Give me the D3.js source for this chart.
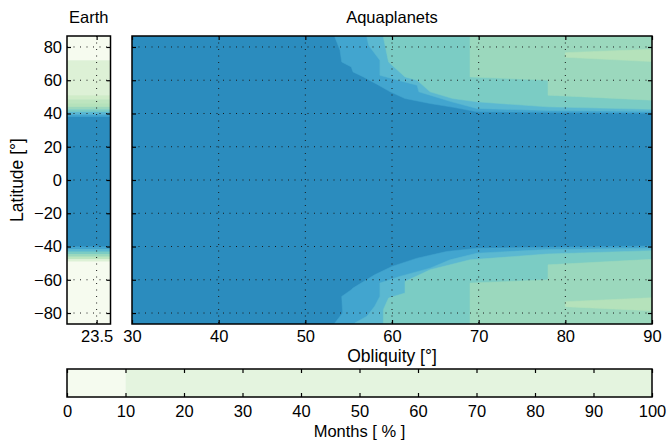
<!DOCTYPE html>
<html>
<head>
<meta charset="utf-8">
<script src="https://cdn.jsdelivr.net/npm/d3@7"></script>
<style>
  body { margin: 0; background: #fff; }
  text { font-family: "Liberation Sans", Arial, sans-serif; fill: #000; }
  .tick text { font-size: 16.5px; }
  .tick line { stroke: #000; stroke-width: 1.2; }
  .domain { display: none; }
</style>
</head>
<body>
<svg id="chart"></svg>
<script>
var svgWidth = 667;
var svgHeight = 442;

// contour levels (months in %) and their colours
var levels = [10, 20, 30, 40, 50, 60, 70, 80, 90];
var levelColors = ["#f6fbef", "#ddf1d6", "#cfecc8", "#bde5bf", "#b5e2bb",
                   "#9bd8bd", "#7bccc4", "#5bb8d1", "#42a5cf", "#2b8cbe"];

// colour bar as drawn in the original figure
var cbarEdges = [0, 10, 100];
var cbarColors = ["#f5fbef", "#e4f4df"];
var cbarTicks = [0, 10, 20, 30, 40, 50, 60, 70, 80, 90, 100];

// Earth column: latitude band edges and months (%) in each band
var earthLatEdges = [90, 72, 68, 51, 48.5, 46, 44, 42.5, 41, 39.5, 38, -40, -41.5, -43, -44.5, -46, -47.5, -49, -90];
var earthMonths = [4, 11, 15, 25, 35, 45, 55, 65, 75, 85, 95, 85, 75, 65, 55, 35, 15, 4];

// Aquaplanets: contour boundaries [obliquity, latitude], north hemisphere
var north90 = [[53.4, 90], [53.4, 86], [54, 78], [54.2, 71], [55.3, 68], [55.5, 65], [56.7, 62],
               [58.3, 57.5], [59.8, 53], [61.5, 49], [64.4, 46], [67.1, 43.7], [69.8, 41], [90, 40.1]];
var north80 = [[57.1, 90], [57.1, 86], [57.3, 81], [58.6, 72], [58.6, 63], [60.7, 60], [62.9, 57],
               [63.1, 53], [64.4, 51], [66.9, 47], [69.8, 43], [78, 41.8], [90, 41.2]];
var north70 = [[59, 90], [59, 86], [59.6, 71], [61.5, 62], [62.9, 60], [64.4, 53], [67, 49],
               [69.8, 47], [77.9, 44], [90, 42.5]];
var north60 = [[69, 90], [69, 62], [78, 60], [78, 51], [90, 48]];
var north50Low = [[80, 73.8], [90, 71.2]];
var north50High = [[80, 76.6], [90, 78.6]];

// south hemisphere
var south90 = [[53.4, -90], [53.4, -86], [54.3, -80], [54.2, -70], [55.3, -66], [55.5, -65],
               [58, -57], [60, -52], [62.9, -47], [66.3, -43], [69.8, -41], [90, -39.7]];
var south80 = [[55.7, -90], [55.7, -86], [57.1, -82], [58, -76], [58.6, -70], [58.6, -62],
               [60.9, -58], [64.4, -53], [66.7, -48], [69.8, -44], [78, -41.8], [90, -41]];
var south70 = [[59, -90], [59, -78], [59.6, -71], [61.5, -68], [61.5, -61], [64.4, -54],
               [69, -48], [77.9, -44.5], [90, -42.5]];
var south60 = [[69, -90], [69, -62], [78, -60], [78, -51], [90, -47.7]];
var south50Low = [[80, -76.2], [90, -78.6]];
var south50High = [[80, -73.2], [90, -70.8]];

var yTicks = [-80, -60, -40, -20, 0, 20, 40, 60, 80];
var oblTicks = [30, 40, 50, 60, 70, 80, 90];
var earthObl = [23.5];

var svg = d3.select("#chart")
    .attr("width", svgWidth)
    .attr("height", svgHeight);

var plotTop = 36, plotBottom = 324;

var yScale = d3.scaleLinear().domain([-86.6, 86.6]).range([plotBottom, plotTop]);
var xEarth = d3.scaleLinear().domain([20.3, 25]).range([67, 110.5]);
var xAqua = d3.scaleLinear().domain([30, 90]).range([132, 652]);
var xBar = d3.scaleLinear().domain([0, 100]).range([67, 652]);

var color = d3.scaleThreshold().domain(levels).range(levelColors);

var eX0 = xEarth.range()[0], eX1 = xEarth.range()[1];

var defs = svg.append("defs");
defs.append("clipPath").attr("id", "clipAqua")
    .append("rect")
    .attr("x", xAqua(30)).attr("y", plotTop)
    .attr("width", xAqua(90) - xAqua(30)).attr("height", plotBottom - plotTop);
defs.append("clipPath").attr("id", "clipEarth")
    .append("rect")
    .attr("x", eX0).attr("y", plotTop)
    .attr("width", eX1 - eX0).attr("height", plotBottom - plotTop);

// ---- Earth panel ----
var earthG = svg.append("g").attr("clip-path", "url(#clipEarth)");
earthG.selectAll("rect")
    .data(earthMonths)
    .enter()
    .append("rect")
    .attr("x", eX0)
    .attr("width", eX1 - eX0)
    .attr("y", (d, i) => yScale(earthLatEdges[i]))
    .attr("height", (d, i) => yScale(earthLatEdges[i + 1]) - yScale(earthLatEdges[i]) + 0.5)
    .attr("fill", d => color(d));

// ---- Aquaplanet panel ----
var aquaG = svg.append("g").attr("clip-path", "url(#clipAqua)");
aquaG.append("rect")
    .attr("x", xAqua(30)).attr("y", plotTop)
    .attr("width", xAqua(90) - xAqua(30)).attr("height", plotBottom - plotTop)
    .attr("fill", color(95));

var line = d3.line().x(d => xAqua(d[0])).y(d => yScale(d[1]));

function capPolygon(pts, pole) {
    return pts.concat([[90, pole], [pts[0][0], pole]]);
}
function bandPolygon(low, high) {
    return low.concat(high.slice().reverse());
}

var layers = [
    { pts: capPolygon(north90, 90), v: 85 },
    { pts: capPolygon(north80, 90), v: 75 },
    { pts: capPolygon(north70, 90), v: 65 },
    { pts: capPolygon(north60, 90), v: 55 },
    { pts: bandPolygon(north50Low, north50High), v: 45 },
    { pts: capPolygon(south90, -90), v: 85 },
    { pts: capPolygon(south80, -90), v: 75 },
    { pts: capPolygon(south70, -90), v: 65 },
    { pts: capPolygon(south60, -90), v: 55 },
    { pts: bandPolygon(south50Low, south50High), v: 45 }
];

aquaG.selectAll("path.level")
    .data(layers)
    .enter()
    .append("path")
    .attr("class", "level")
    .attr("d", d => line(d.pts) + "Z")
    .attr("fill", d => color(d.v))
    .attr("stroke", d => color(d.v))
    .attr("stroke-width", 0.5);

// ---- grids ----
function dotted(g) {
    g.attr("stroke", "#1a1a1a").attr("stroke-width", 1).attr("stroke-dasharray", "1,5.5");
}
var gridE = svg.append("g").call(dotted);
gridE.selectAll("line.h").data(yTicks).enter().append("line")
    .attr("x1", eX0).attr("x2", eX1)
    .attr("y1", d => yScale(d)).attr("y2", d => yScale(d));
gridE.selectAll("line.v").data(earthObl).enter().append("line")
    .attr("x1", d => xEarth(d)).attr("x2", d => xEarth(d))
    .attr("y1", plotTop).attr("y2", plotBottom);

var gridA = svg.append("g").call(dotted);
gridA.selectAll("line.h").data(yTicks).enter().append("line")
    .attr("x1", xAqua(30)).attr("x2", xAqua(90))
    .attr("y1", d => yScale(d)).attr("y2", d => yScale(d));
gridA.selectAll("line.v").data(oblTicks.slice(1, -1)).enter().append("line")
    .attr("x1", d => xAqua(d)).attr("x2", d => xAqua(d))
    .attr("y1", plotTop).attr("y2", plotBottom);

// ---- axes ----
svg.append("g")
    .attr("transform", `translate(${eX0},0)`)
    .call(d3.axisLeft(yScale).tickValues(yTicks).tickSize(-4).tickSizeOuter(0).tickPadding(5));
svg.append("g")
    .attr("transform", `translate(${eX1},0)`)
    .call(d3.axisRight(yScale).tickValues(yTicks).tickSize(-4).tickSizeOuter(0).tickFormat(""));
svg.append("g")
    .attr("transform", `translate(0,${plotBottom})`)
    .call(d3.axisBottom(xEarth).tickValues(earthObl).tickSize(-4).tickSizeOuter(0).tickPadding(6).tickFormat(d3.format(".1f")));
svg.append("g")
    .attr("transform", `translate(0,${plotTop})`)
    .call(d3.axisTop(xEarth).tickValues(earthObl).tickSize(-4).tickSizeOuter(0).tickFormat(""));

svg.append("g")
    .attr("transform", `translate(${xAqua(30)},0)`)
    .call(d3.axisLeft(yScale).tickValues(yTicks).tickSize(-4).tickSizeOuter(0).tickFormat(""));
svg.append("g")
    .attr("transform", `translate(${xAqua(90)},0)`)
    .call(d3.axisRight(yScale).tickValues(yTicks).tickSize(-4).tickSizeOuter(0).tickFormat(""));
svg.append("g")
    .attr("transform", `translate(0,${plotBottom})`)
    .call(d3.axisBottom(xAqua).tickValues(oblTicks).tickSize(-4).tickSizeOuter(0).tickPadding(6));
svg.append("g")
    .attr("transform", `translate(0,${plotTop})`)
    .call(d3.axisTop(xAqua).tickValues(oblTicks).tickSize(-4).tickSizeOuter(0).tickFormat(""));

// frames
svg.append("rect")
    .attr("x", eX0).attr("y", plotTop)
    .attr("width", eX1 - eX0).attr("height", plotBottom - plotTop)
    .attr("fill", "none").attr("stroke", "#000").attr("stroke-width", 1.5);
svg.append("rect")
    .attr("x", xAqua(30)).attr("y", plotTop)
    .attr("width", xAqua(90) - xAqua(30)).attr("height", plotBottom - plotTop)
    .attr("fill", "none").attr("stroke", "#000").attr("stroke-width", 1.5);

// ---- colour bar ----
var barTop = 369, barBottom = 397;
svg.append("g").selectAll("rect")
    .data(cbarColors)
    .enter()
    .append("rect")
    .attr("x", (d, i) => xBar(cbarEdges[i]))
    .attr("width", (d, i) => xBar(cbarEdges[i + 1]) - xBar(cbarEdges[i]))
    .attr("y", barTop).attr("height", barBottom - barTop)
    .attr("fill", d => d);
svg.append("g")
    .attr("transform", `translate(0,${barBottom})`)
    .call(d3.axisBottom(xBar).tickValues(cbarTicks).tickSize(-4).tickSizeOuter(0).tickPadding(8));
svg.append("g")
    .attr("transform", `translate(0,${barTop})`)
    .call(d3.axisTop(xBar).tickValues(cbarTicks).tickSize(-4).tickSizeOuter(0).tickFormat(""));
svg.append("rect")
    .attr("x", xBar(0)).attr("y", barTop)
    .attr("width", xBar(100) - xBar(0)).attr("height", barBottom - barTop)
    .attr("fill", "none").attr("stroke", "#000").attr("stroke-width", 1.5);

// ---- labels ----
var labelSize = "16.5px";
svg.append("text")
    .attr("x", (eX0 + eX1) / 2).attr("y", 23)
    .attr("text-anchor", "middle").style("font-size", labelSize)
    .text("Earth");
svg.append("text")
    .attr("x", (xAqua(30) + xAqua(90)) / 2).attr("y", 23)
    .attr("text-anchor", "middle").style("font-size", labelSize)
    .text("Aquaplanets");
svg.append("text")
    .attr("transform", `translate(23,${yScale(0)}) rotate(-90)`)
    .attr("text-anchor", "middle").style("font-size", "17.5px")
    .text("Latitude [°]");
svg.append("text")
    .attr("x", (xAqua(30) + xAqua(90)) / 2).attr("y", 362)
    .attr("text-anchor", "middle").style("font-size", "17.5px")
    .text("Obliquity [°]");
svg.append("text")
    .attr("x", xBar(50)).attr("y", 437)
    .attr("text-anchor", "middle").style("font-size", labelSize)
    .text("Months [ % ]");
</script>
</body>
</html>
